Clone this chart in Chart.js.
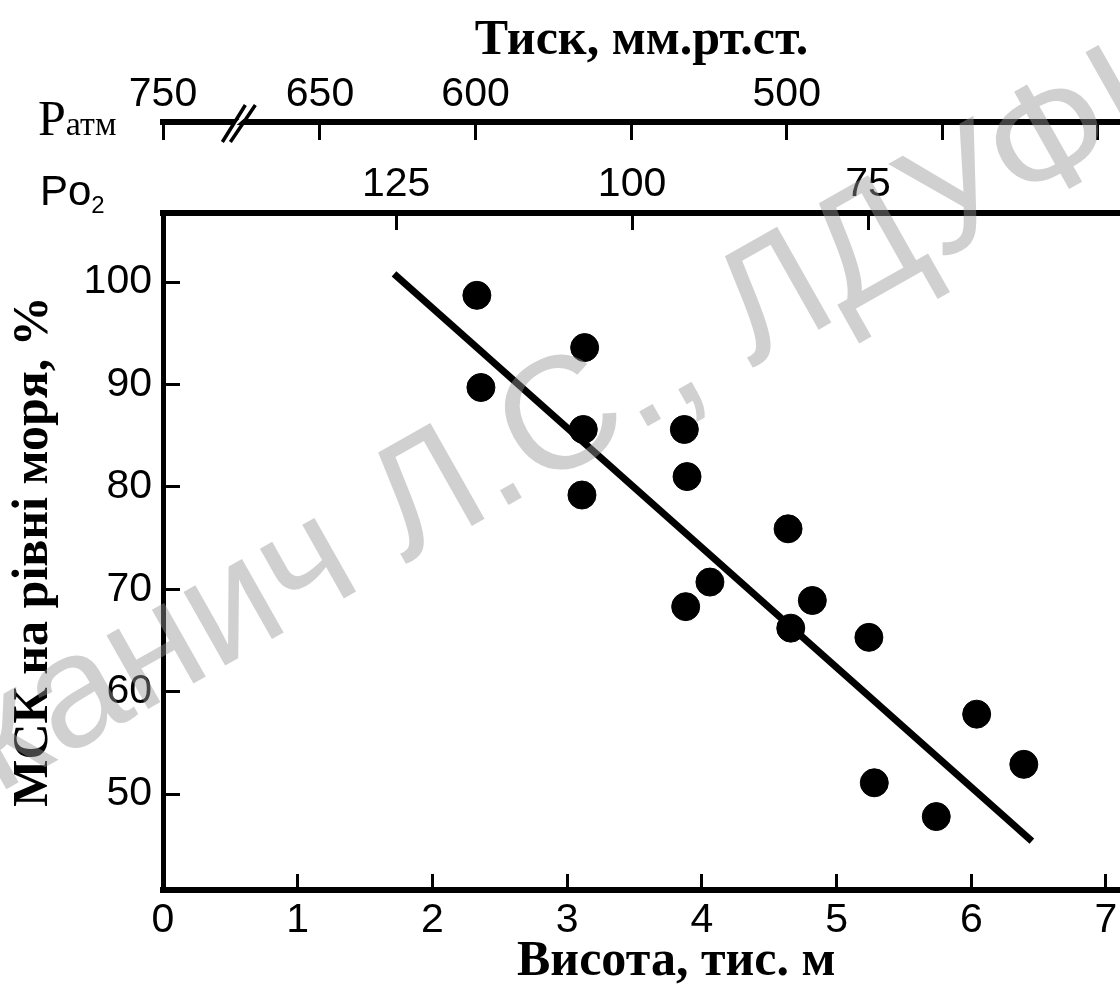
<!DOCTYPE html>
<html>
<head>
<meta charset="utf-8">
<script src="https://cdn.jsdelivr.net/npm/chart.js@4"></script>
<style>
  html, body { margin: 0; padding: 0; background: #fff; }
</style>
</head>
<body>
<canvas id="canvas" width="1120" height="988"></canvas>
<script>
// points: altitude (thousand m) vs MVC at sea level (%)
const altitudeKm = [2.33, 2.36, 3.13, 3.12, 3.11, 3.87, 3.89, 3.88, 4.06, 4.64, 4.66, 4.82, 5.24, 5.28, 5.74, 6.04, 6.39];
const mvcPercent = [98.7, 89.7, 93.6, 85.6, 79.2, 85.6, 81.0, 68.3, 70.7, 75.9, 66.2, 68.9, 65.3, 51.1, 47.8, 57.8, 52.9];

// regression line ends
const trendAltitude = [1.715, 6.45];
const trendPercent = [100.8, 45.4];

const altitudeTicks = [0, 1, 2, 3, 4, 5, 6, 7];
const percentTicks = [50, 60, 70, 80, 90, 100];
const po2Ticks = [125, 100, 75];
const patmTicks = [750, 650, 600, 550, 500, 450, 400];
const patmLabelled = [750, 650, 600, 500];
const patmBreakValue = 700.45; // 750 is drawn here, the axis is broken

const ink = '#000';
const numFont = {family: "'Liberation Sans', Arial, sans-serif", size: 41, lineHeight: 1};
const serifBold = {family: "'Liberation Serif', 'Times New Roman', serif", size: 50, weight: 'bold', lineHeight: 1};

const fixTicks = (values, map) => (scale) => {
    scale.ticks = values.map(v => ({value: map ? map(v) : v}));
};
const fixSize = (prop, size) => (scale) => {
    scale[prop] = size;
    scale.paddingLeft = scale.paddingRight = scale.paddingTop = scale.paddingBottom = 0;
};
const tickGrid = (len) => ({
    display: true, drawOnChartArea: false, drawTicks: true,
    tickLength: -len, tickWidth: 3, tickColor: ink
});

const extras = {
    id: 'extras',
    afterDraw(chart) {
        const c = chart.ctx;
        const area = chart.chartArea;
        const patm = chart.scales.patm;
        const xs = chart.scales.x;
        c.save();
        c.fillStyle = ink;

        // Patm label
        c.textBaseline = 'alphabetic';
        c.textAlign = 'left';
        c.font = "50px 'Liberation Serif', serif";
        c.fillText('P', area.left - 125, patm.bottom + 13);
        const pw = c.measureText('P').width;
        c.font = "34px 'Liberation Serif', serif";
        c.fillText('атм', area.left - 125 + pw, patm.bottom + 13);

        // Po2 label
        c.font = "42px 'Liberation Sans', sans-serif";
        c.fillText('Po', area.left - 123, area.top - 8);
        const ow = c.measureText('Po').width;
        c.font = "24px 'Liberation Sans', sans-serif";
        c.fillText('2', area.left - 123 + ow, area.top);

        // axis break on Patm
        const x0 = patm.getPixelForValue(patmBreakValue);
        const bx = x0 + 0.48 * (patm.getPixelForValue(650) - x0);
        const by = patm.bottom;
        c.fillStyle = '#fff';
        c.beginPath();
        c.moveTo(bx - 8, by + 5); c.lineTo(bx + 8, by - 9);
        c.lineTo(bx + 12, by - 9); c.lineTo(bx - 4, by + 5);
        c.closePath(); c.fill();
        c.strokeStyle = ink;
        c.lineWidth = 3.5;
        c.beginPath();
        c.moveTo(bx - 16, by + 20); c.lineTo(bx + 7, by - 17);
        c.moveTo(bx - 8, by + 20); c.lineTo(bx + 17, by - 17);
        c.stroke();

        // bottom axis title
        c.fillStyle = ink;
        c.textAlign = 'center';
        c.font = "bold 50px 'Liberation Serif', serif";
        c.fillText('Висота, тис. м', xs.getPixelForValue(3.81), 975);

        // watermark
        c.translate(58, 760);
        c.rotate(-29.5 * Math.PI / 180);
        c.font = "160px 'Liberation Sans', sans-serif";
        c.textAlign = 'left';
        c.fillStyle = 'rgba(150,150,150,0.45)';
        c.fillText('Вовканич Л.С., ЛДУФК', -c.measureText('Вовк').width, 0);
        c.restore();
    }
};

const ctx = document.getElementById('canvas');
const chart = new Chart(ctx, {
    type: 'scatter',
    data: {
        datasets: [{
            data: trendAltitude.map((x, i) => ({x: x, y: trendPercent[i]})),
            showLine: true,
            borderColor: ink,
            borderWidth: 7,
            borderCapStyle: 'butt',
            pointRadius: 0,
            pointHoverRadius: 0
        }, {
            data: altitudeKm.map((x, i) => ({x: x, y: mvcPercent[i]})),
            backgroundColor: ink,
            borderColor: ink,
            borderWidth: 1,
            pointRadius: 14,
            pointHoverRadius: 14
        }]
    },
    options: {
        responsive: false,
        animation: false,
        devicePixelRatio: 1,
        layout: {padding: 0, autoPadding: false},
        plugins: {legend: {display: false}, tooltip: {enabled: false}},
        events: [],
        scales: {
            x: {
                type: 'linear', position: 'bottom', min: 0, max: 7.104,
                afterBuildTicks: fixTicks(altitudeTicks),
                afterFit: fixSize('height', 98),
                border: {display: true, color: ink, width: 6},
                grid: tickGrid(16),
                ticks: {color: ink, padding: 26, font: numFont, maxRotation: 0, autoSkip: false}
            },
            y: {
                type: 'linear', position: 'left', min: 40.63, max: 106.74,
                afterBuildTicks: fixTicks(percentTicks),
                afterFit: fixSize('width', 163),
                border: {display: true, color: ink, width: 5},
                grid: tickGrid(17),
                ticks: {color: ink, padding: 28, font: numFont, autoSkip: false},
                title: {display: true, text: 'МСК на рівні моря, %', color: ink, font: serifBold, padding: {top: 9, bottom: 0}}
            },
            po2: {
                type: 'linear', axis: 'x', position: 'top', reverse: true, min: 48.3, max: 149.7,
                weight: 1,
                afterBuildTicks: fixTicks(po2Ticks),
                afterFit: fixSize('height', 91),
                border: {display: true, color: ink, width: 6},
                grid: tickGrid(17),
                ticks: {color: ink, padding: 25, font: numFont, maxRotation: 0, autoSkip: false}
            },
            patm: {
                type: 'linear', axis: 'x', position: 'top', reverse: true, min: 392.9, max: patmBreakValue,
                weight: 2,
                afterBuildTicks: fixTicks(patmTicks, v => v === 750 ? patmBreakValue : v),
                afterFit: fixSize('height', 122),
                border: {display: true, color: ink, width: 6},
                grid: tickGrid(18),
                ticks: {
                    color: ink, padding: 25, font: numFont, maxRotation: 0, autoSkip: false,
                    callback: (value) => value === patmBreakValue ? '750' : (patmLabelled.includes(value) ? String(value) : '')
                },
                title: {display: true, text: 'Тиск, мм.рт.ст.', color: ink, font: serifBold, padding: {top: 16, bottom: 0}}
            }
        }
    },
    plugins: [extras]
});
</script>
</body>
</html>
